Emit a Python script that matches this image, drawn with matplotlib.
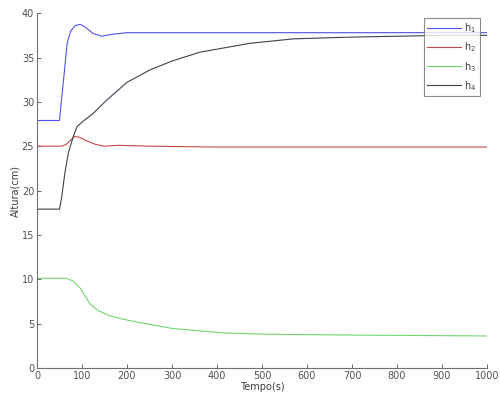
import matplotlib.pyplot as plt
import numpy as np

# tempo (s) e alturas (cm)
t1 = [0, 50, 53, 57, 62, 67, 75, 85, 96, 108, 125, 144, 165, 200, 1000]
h1 = [27.9, 27.9, 29.5, 31.5, 34.0, 36.6, 38.0, 38.6, 38.75, 38.4, 37.7, 37.4, 37.6, 37.8, 37.8]

t2 = [0, 55, 65, 75, 84, 95, 110, 130, 150, 180, 250, 400, 1000]
h2 = [25.0, 25.0, 25.2, 25.7, 26.1, 26.0, 25.6, 25.2, 25.0, 25.1, 25.0, 24.9, 24.9]

t3 = [0, 65, 80, 96, 108, 118, 135, 160, 190, 229, 300, 413, 500, 700, 1000]
h3 = [10.1, 10.1, 9.8, 9.0, 8.0, 7.2, 6.5, 5.9, 5.5, 5.1, 4.45, 3.95, 3.8, 3.7, 3.6]

t4 = [0, 50, 55, 62, 70, 80, 89, 102, 125, 155, 200, 251, 300, 362, 473, 569, 696, 800, 900, 1000]
h4 = [17.9, 17.9, 19.3, 22.0, 24.3, 26.0, 27.2, 27.8, 28.7, 30.2, 32.2, 33.6, 34.6, 35.6, 36.6, 37.1, 37.3, 37.4, 37.5, 37.5]

fig = plt.figure(figsize=(5, 3.99), dpi=100)
ax = fig.add_axes([0.074, 0.078, 0.9, 0.889])

ax.plot(t1, h1, color='#5050f0', lw=0.8, label='h$_1$')
ax.plot(t2, h2, color='#c84848', lw=0.8, label='h$_2$')
ax.plot(t3, h3, color='#70d870', lw=0.8, label='h$_3$')
ax.plot(t4, h4, color='#404050', lw=0.8, label='h$_4$')

ax.set_xlim(0, 1000)
ax.set_ylim(0, 40)
ax.set_xticks(np.arange(0, 1001, 100))
ax.set_yticks(np.arange(0, 41, 5))
ax.spines['top'].set_visible(False)
ax.spines['right'].set_visible(False)
for s in ['left', 'bottom']:
    ax.spines[s].set_color('#707070')
    ax.spines[s].set_linewidth(0.8)
ax.tick_params(direction='in', labelsize=7, colors='#505050', length=3, width=0.6, pad=2)
ax.set_xlabel('Tempo(s)', fontsize=7, color='#404040', labelpad=1)
ax.set_ylabel('Altura(cm)', fontsize=7, color='#404040', labelpad=1)

leg = ax.legend(loc='upper right', bbox_to_anchor=(0.995, 1.0), fontsize=7,
                frameon=True, fancybox=False, handlelength=3.5, handletextpad=0.3,
                borderpad=0.35, labelspacing=0.55)
leg.get_frame().set_edgecolor('#707070')
leg.get_frame().set_linewidth(0.8)
for txt in leg.get_texts():
    txt.set_color('#404040')

fig.savefig('out.png', dpi=100, facecolor='white')
